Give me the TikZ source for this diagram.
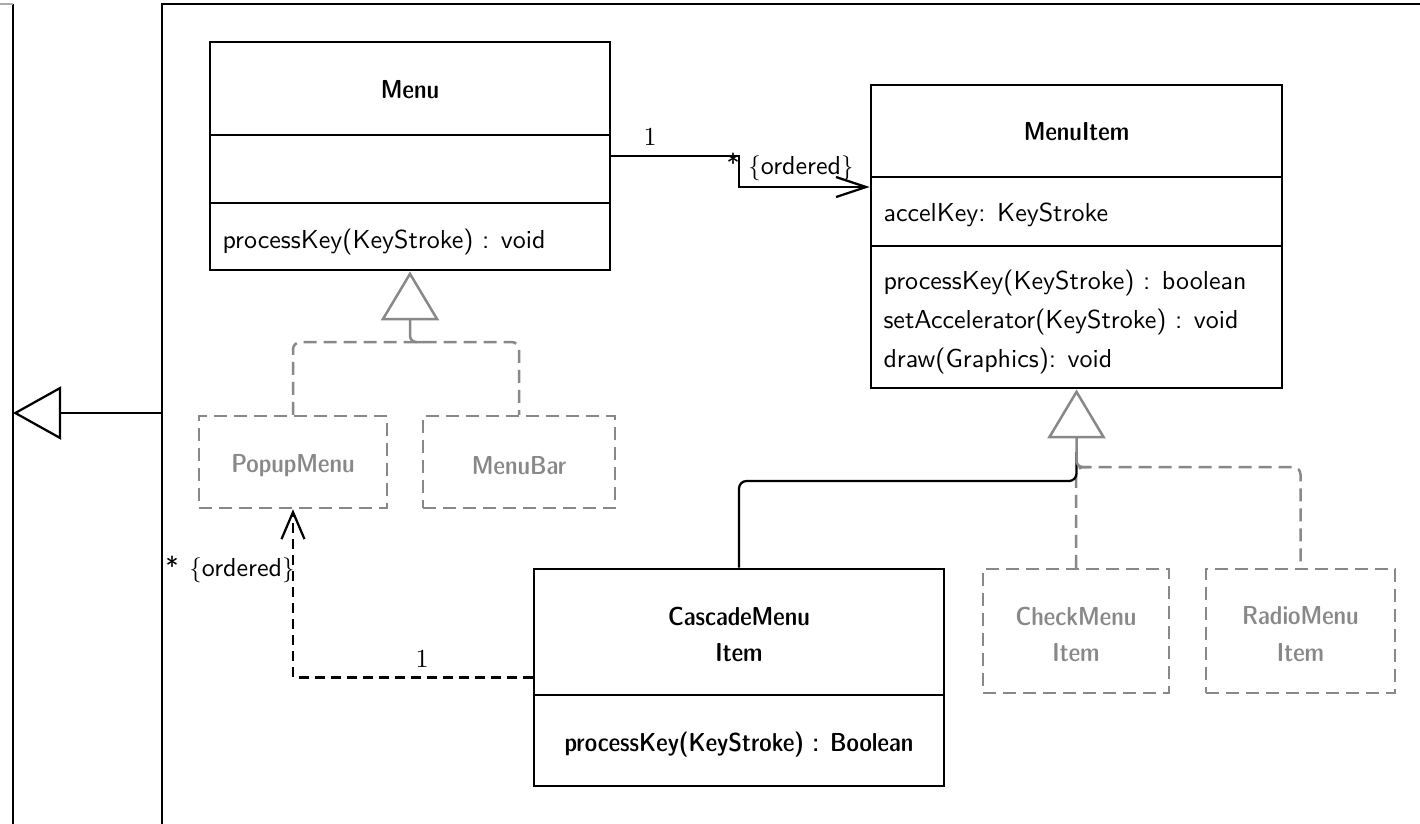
\documentclass[tikz,border=0pt]{standalone}
\usetikzlibrary{arrows.meta}
\definecolor{ghost}{RGB}{136,136,136}
\definecolor{faint}{RGB}{170,170,170}

\begin{document}
\begin{tikzpicture}[x=0.4pt,y=-0.4pt,
  every node/.style={inner sep=0pt, font=\fontsize{10.4}{12.5}\selectfont\sffamily},
  title/.style={font=\fontsize{10.4}{12.5}\selectfont\sffamily\fontseries{sbc}\selectfont},
  ghosttitle/.style={title, text=ghost},
  mult/.style={font=\fontsize{10.4}{12.5}\selectfont\rmfamily},
  dims/.style 2 args={minimum width=#1*0.4pt, minimum height=#2*0.4pt},
  classbox/.style={draw, line width=1.1pt},
  ghostbox/.style={draw=ghost, line width=1pt, dash pattern=on 5.2pt off 2.8pt},
  divider/.style={line width=1.1pt},
  conn/.style={line width=0.9pt},
  assoc/.style={conn, -{Straight Barb[length=12pt,width=8pt]}},
  dassoc/.style={conn, dash pattern=on 4pt off 2.4pt, -{Straight Barb[length=10.8pt,width=9.2pt]}},
  ghostdash/.style={draw=ghost, line width=1pt, dash pattern=on 5.2pt off 2.8pt, rounded corners=3pt},
  inhgray/.style={draw=ghost, line width=1pt, rounded corners=2.5pt,
    -{Triangle[open,length=19.6pt,width=23.2pt]}},
  inhblack/.style={conn, -{Triangle[open,length=19.2pt,width=21.2pt]}}
]
\useasboundingbox (0,0) rectangle (1420,823);

% package frames
\draw[conn] (162,840) -- (162,4) -- (1440,4);
\draw[conn] (13,840) -- (13,4);
\draw[draw=faint, line width=0.8pt] (-5,4) -- (13,4);
\coordinate (pkgR) at (161,413);
\coordinate (pkgL) at (13,413);
\draw[inhblack] (pkgR) -- (pkgL);

% Menu
\node[classbox, dims={400}{228}] (menu) at (410,156) {};
\draw[divider] (menu.west |- 0,135) -- (menu.east |- 0,135);
\draw[divider] (menu.west |- 0,203) -- (menu.east |- 0,203);
\node[title] (menuT) at (410,90) {Menu};
\node[anchor=west] (menuM) at (222,242) {processKey(KeyStroke) : void};

% MenuItem
\node[classbox, dims={411}{303}] (menuitem) at (1076.5,236.5) {};
\draw[divider] (menuitem.west |- 0,177) -- (menuitem.east |- 0,177);
\draw[divider] (menuitem.west |- 0,246) -- (menuitem.east |- 0,246);
\node[title] (menuitemT) at (1076.5,132) {MenuItem};
\node[anchor=west] (miA) at (883,215) {accelKey: KeyStroke};
\node[anchor=west] (miM1) at (883,283) {processKey(KeyStroke) : boolean};
\node[anchor=west] (miM2) at (883,322) {setAccelerator(KeyStroke) : void};
\node[anchor=west] (miM3) at (883,361) {draw(Graphics): void};

% CascadeMenuItem
\node[classbox, dims={410}{217}] (cascade) at (739,677.5) {};
\draw[divider] (cascade.west |- 0,695) -- (cascade.east |- 0,695);
\node[title] (cascT1) at (739,616) {CascadeMenu};
\node[title] (cascT2) at (739,653) {Item};
\node[title] (cascM) at (739,745) {processKey(KeyStroke) : Boolean};

% subclasses drawn in gray
\node[ghostbox, dims={188}{92}] (popup) at (293,462) {};
\node[ghosttitle] (popupT) at (293,466) {PopupMenu};
\node[ghostbox, dims={192}{92}] (menubar) at (519,462) {};
\node[ghosttitle] (menubarT) at (519,466) {MenuBar};
\node[ghostbox, dims={186}{124}] (check) at (1076,631) {};
\node[ghosttitle] (checkT1) at (1076,616) {CheckMenu};
\node[ghosttitle] (checkT2) at (1076,653) {Item};
\node[ghostbox, dims={189}{124}] (radio) at (1300.5,631) {};
\node[ghosttitle] (radioT1) at (1300.5,616) {RadioMenu};
\node[ghosttitle] (radioT2) at (1300.5,653) {Item};

% generalization Menu
\draw[ghostdash] (popup.north) |- (menubar.north |- 0,342) -- (menubar.north);
\draw[inhgray] (424,342) -| (menu.south);

% generalization MenuItem
\draw[ghostdash] (check.north) -- (1076,467) -- (radio.north |- 0,467) -- (radio.north);
\draw[conn, rounded corners=3pt] (cascade.north) |- (1076.5,481) -- (1076.5,452);
\draw[inhgray] (1090,467) -| (menuitem.south);

% association Menu -> MenuItem
\coordinate (bend) at (739,187);
\draw[assoc] (menu.east) -| (bend) -- (bend -| menuitem.west);
\node[mult] (m1) at (650,137) {1};
\node (m2) at (733,163) {*};
\node (m3) at (801,168) {$\{$ordered$\}$};

% association CascadeMenuItem -> PopupMenu
\draw[dassoc] (cascade.west) -| (popup.south);
\node[mult] (c1) at (422,659) {1};
\node (c2) at (172,566) {*};
\node (c3) at (242,570) {$\{$ordered$\}$};
\end{tikzpicture}
\end{document}
